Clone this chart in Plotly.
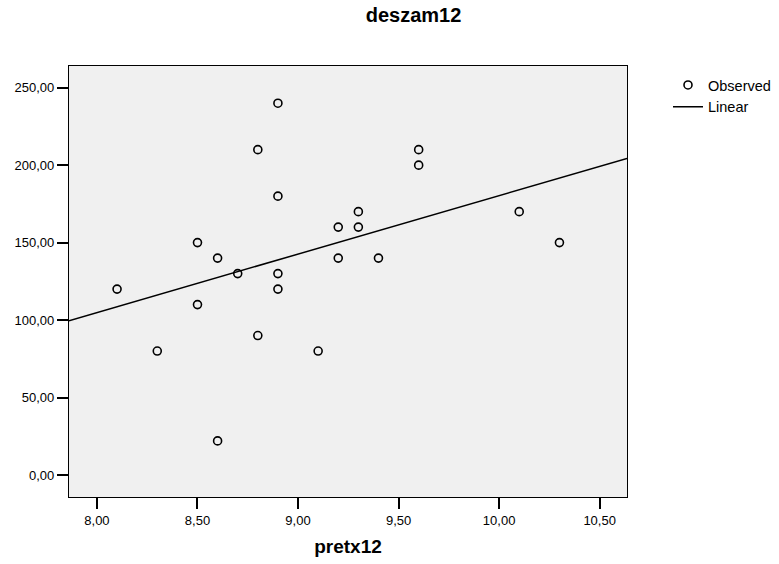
import numpy as np
import plotly.graph_objects as go

# Observed values
pretx12 = [8.1, 8.3, 8.5, 8.5, 8.6, 8.6, 8.7, 8.8, 8.8, 8.9, 8.9, 8.9, 8.9,
           9.1, 9.2, 9.2, 9.3, 9.3, 9.4, 9.6, 9.6, 10.1, 10.3]
deszam12 = [120, 80, 150, 110, 140, 22, 130, 210, 90, 240, 180, 130, 120,
            80, 160, 140, 170, 160, 140, 210, 200, 170, 150]

x_range = [7.861, 10.636]
y_range = [-14.2, 264.0]
x_ticks = [8.0, 8.5, 9.0, 9.5, 10.0, 10.5]
y_ticks = [0, 50, 100, 150, 200, 250]

# Least-squares linear fit across the full x axis
slope, intercept = np.polyfit(pretx12, deszam12, 1)
fit_x = np.array(x_range)
fit_y = slope * fit_x + intercept

FONT = "Liberation Sans, Arial, Helvetica, sans-serif"

fig = go.Figure()
fig.add_trace(go.Scatter(
    x=pretx12, y=deszam12, mode="markers", name="Observed",
    marker=dict(symbol="circle-open", size=8, color="black",
                line=dict(width=1.6, color="black")),
))
fig.add_trace(go.Scatter(
    x=fit_x, y=fit_y, mode="lines", name="Linear",
    line=dict(color="black", width=1.5),
))

axis_common = dict(
    showgrid=False, zeroline=False, showline=True, linecolor="black",
    linewidth=1.2, mirror=True, ticks="outside", ticklen=11, tickwidth=1.5,
    tickcolor="black", tickformat=".2f",
    tickfont=dict(family=FONT, size=13, color="black"),
)

fig.update_layout(
    width=779, height=564,
    margin=dict(l=69, r=152, t=66, b=67, autoexpand=False),
    paper_bgcolor="white", plot_bgcolor="#f0f0f0",
    separators=",.",
    font=dict(family=FONT, color="black"),
    title=dict(text="<b>deszam12</b>", xref="container", yref="container",
               x=413.5 / 779, y=1 - 14.5 / 564, xanchor="center", yanchor="middle",
               font=dict(family=FONT, size=20, color="black")),
    xaxis=dict(range=x_range, tickvals=x_ticks,
               title=dict(text="<b>pretx12</b>", standoff=12,
                          font=dict(family=FONT, size=19, color="black")),
               **axis_common),
    yaxis=dict(range=y_range, tickvals=y_ticks, **axis_common),
    legend=dict(x=(668 - 69) / 558, y=1 - 3 / 431, xanchor="left", yanchor="top",
                bgcolor="rgba(0,0,0,0)", borderwidth=0,
                font=dict(family=FONT, size=14.5, color="black"),
                tracegroupgap=0),
    showlegend=True,
)

fig.write_html("out.html")
